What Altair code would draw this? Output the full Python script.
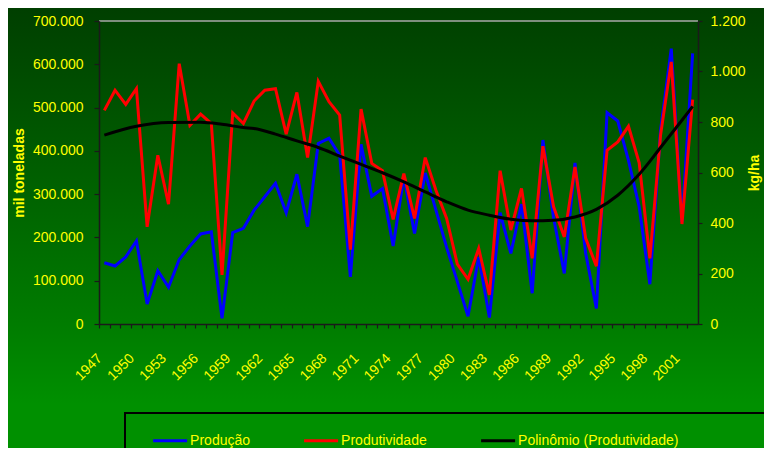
import altair as alt
import pandas as pd

# ---------------- data ----------------
years = list(range(1947, 2003))

# Produção (toneladas) - left axis
producao = [141500, 134000, 155000, 192000, 46000, 123000, 85000, 149000,
            180000, 208000, 213000, 13000, 211000, 221000,
            263000, 294000, 325000, 257000, 346000, 225000, 417000, 429000,
            390000, 109000, 415000, 295000, 313000, 180000,
            340000, 209000, 349000, 263000, 177000, 98000, 18000, 155000,
            15000, 257000, 163000, 277000, 71000, 425000,
            245000, 117000, 372000, 163000, 36000, 488000, 469000, 378000,
            271000, 92000, 448000, 636000, 235000, 625000]

# Produtividade (kg/ha) - right axis
produtividade = [846, 926, 870, 932, 385, 668, 475, 1031, 787, 831, 794, 194, 836, 794,
                 883, 926, 932, 752, 917, 659, 961, 880, 827, 295, 851, 636, 607, 414,
                 596, 418, 659, 530, 418, 237, 177, 299, 115, 607, 372, 537, 260, 704,
                 464, 345, 622, 339, 229, 688, 721, 783, 638, 260, 748, 1038, 396, 889]

# Polinômio (Produtividade) - trend curve
poli_anos = [1947, 1950, 1953, 1956, 1958, 1960, 1961, 1963, 1965, 1967, 1969, 1971,
             1973, 1975, 1977, 1979, 1981, 1983, 1985, 1987, 1989, 1991, 1993, 1995,
             1997, 1999, 2001, 2002]
poli_valores = [748, 783, 798, 799, 791, 778, 774, 752, 725, 699, 665, 632,
                599, 563, 523, 484, 451, 431, 415, 409, 411, 424, 454, 510,
                593, 699, 807, 862]

left_ticks = [0, 100000, 200000, 300000, 400000, 500000, 600000, 700000]
right_ticks = [0, 200, 400, 600, 800, 1000, 1200]

S1, S2, S3 = "Produção", "Produtividade", "Polinômio (Produtividade)"

df_prod = pd.DataFrame({"ano": years, "valor": producao, "serie": S1})
df_rend = pd.DataFrame({"ano": years, "valor": produtividade, "serie": S2})
df_poli = pd.DataFrame({"ano": poli_anos, "valor": poli_valores, "serie": S3})

# ---------------- layout / style ----------------
W, H = 599, 303
PAD = {"left": 91, "top": 13, "right": 66, "bottom": 124}
YELLOW = "#ffff00"
AXC = "#1a1a1a"
FONT = "Liberation Sans"
half_band = W / len(years) / 2

color = alt.Color(
    "serie:N",
    scale=alt.Scale(domain=[S1, S2, S3], range=["#0000ff", "#ff0000", "#000000"]),
    legend=alt.Legend(
        orient="none", legendX=52.6, legendY=401, direction="horizontal",
        title=None, symbolType="stroke", symbolSize=1156, symbolStrokeWidth=3,
        labelColor=YELLOW, labelFontSize=14, labelFont=FONT, labelOffset=1.5,
        columnPadding=47, padding=0, labelLimit=400, zindex=2,
    ),
)

xenc = alt.X(
    "ano:Q",
    scale=alt.Scale(domain=[1946.5, 2002.5], nice=False, zero=False),
    axis=alt.Axis(
        values=years, tickOffset=-half_band, labelOffset=0.5,
        labelExpr="datum.value % 3 == 0 ? '' + datum.value : ''",
        labelAngle=315, labelAlign="right", labelBaseline="middle",
        labelPadding=28, tickSize=4, labelOverlap=False, labelFlush=False,
        labelFontSize=14, labelColor=YELLOW, labelFont=FONT,
        domainColor=AXC, tickColor=AXC, domainWidth=1.5, tickWidth=1.2,
        title=None, grid=False, zindex=1,
    ),
)

y_left = alt.Y(
    "valor:Q",
    scale=alt.Scale(domain=[0, 700000], nice=False),
    axis=alt.Axis(
        orient="left", values=left_ticks,
        labelExpr="replace(format(datum.value, ',.0f'), ',', '.')",
        title="mil toneladas", titleColor=YELLOW, titleFontSize=14, titleFont=FONT,
        titleFontWeight="bold", titleAngle=270, titleX=-76, titleY=H / 2,
        titleBaseline="alphabetic", titleAlign="center",
        labelColor=YELLOW, labelFontSize=14, labelFont=FONT, labelPadding=11,
        tickSize=5, domainColor=AXC, tickColor=AXC, domainWidth=1.5, tickWidth=1.2,
        grid=False, zindex=1,
    ),
)

y_right = alt.Y(
    "valor:Q",
    scale=alt.Scale(domain=[0, 1200], nice=False),
    axis=alt.Axis(
        orient="right", values=right_ticks,
        labelExpr="replace(format(datum.value, ',.0f'), ',', '.')",
        title="kg/ha", titleColor=YELLOW, titleFontSize=14, titleFont=FONT,
        titleFontWeight="bold", titleAngle=270, titleX=60, titleY=H / 2,
        titleBaseline="alphabetic", titleAlign="center",
        labelColor=YELLOW, labelFontSize=14, labelFont=FONT, labelPadding=8,
        tickSize=4, domainColor=AXC, tickColor=AXC, domainWidth=1.5, tickWidth=1.2,
        grid=False, zindex=1,
    ),
)

gradient = alt.LinearGradient(
    gradient="linear",
    stops=[alt.GradientStop(color="#003f00", offset=0),
           alt.GradientStop(color="#007c00", offset=0.72),
           alt.GradientStop(color="#009000", offset=0.9),
           alt.GradientStop(color="#009000", offset=1)],
    x1=0, x2=0, y1=0, y2=1,
)

bg = alt.Chart(df_prod).mark_rect(fill=gradient).encode(
    x=alt.value(-PAD["left"]), x2=alt.value(W + PAD["right"]),
    y=alt.value(-PAD["top"]), y2=alt.value(H + PAD["bottom"]),
)

legend_box = alt.Chart(df_prod).mark_rect(
    fill="#000000", fillOpacity=0, stroke="#000000", strokeWidth=1.2
).encode(
    x=alt.value(26.3), x2=alt.value(720), y=alt.value(392), y2=alt.value(470),
)

top_line = alt.Chart(df_prod).mark_rule(color="#7f8f7f", strokeWidth=1.5).encode(
    x=alt.value(0), x2=alt.value(W), y=alt.value(0),
)

blue = alt.Chart(df_prod).mark_line(strokeWidth=3).encode(
    x=xenc, y=y_left, color=color)
red = alt.Chart(df_rend).mark_line(strokeWidth=3).encode(
    x=xenc, y=y_right, color=color)
black = alt.Chart(df_poli).mark_line(strokeWidth=3, interpolate="monotone").encode(
    x=xenc, y=y_right, color=color)

right_layer = alt.layer(red, black)

chart = (
    alt.layer(bg, legend_box, top_line, blue, right_layer)
    .resolve_scale(y="independent")
    .properties(width=W, height=H, padding=PAD, autosize=alt.AutoSizeParams(type="none"),
                background="#006400")
    .configure_view(stroke=None)
    .configure(font=FONT)
)

chart.save("out.html", embed_options={"renderer": "svg", "actions": False})
